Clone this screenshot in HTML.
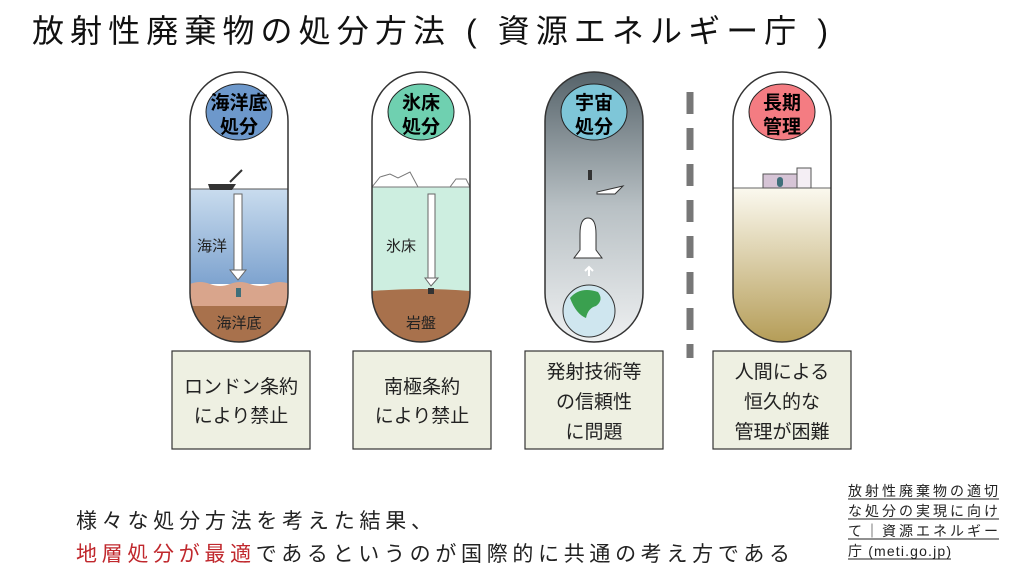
<!DOCTYPE html>
<html><head><meta charset="utf-8"><style>
body{margin:0;width:1024px;height:576px;background:#fff;overflow:hidden;font-family:"Liberation Sans","Noto Sans CJK JP",sans-serif;}
svg text{font-family:"Liberation Sans","Noto Sans CJK JP",sans-serif;}
</style></head><body>
<svg width="1024" height="576" viewBox="0 0 1024 576" xmlns="http://www.w3.org/2000/svg">
<defs>
<clipPath id="c1"><rect x="190" y="72" width="98" height="270" rx="49"/></clipPath>
<clipPath id="c2"><rect x="372" y="72" width="98" height="270" rx="49"/></clipPath>
<clipPath id="c3"><rect x="545" y="72" width="98" height="270" rx="49"/></clipPath>
<clipPath id="c4"><rect x="733" y="72" width="98" height="270" rx="49"/></clipPath>
<linearGradient id="sea" x1="0" y1="0" x2="0" y2="1"><stop offset="0" stop-color="#c9dcee"/><stop offset="1" stop-color="#7ea3cf"/></linearGradient>
<linearGradient id="space" x1="0" y1="0" x2="0" y2="1"><stop offset="0" stop-color="#56636a"/><stop offset="0.5" stop-color="#b8c0c4"/><stop offset="1" stop-color="#eef0f1"/></linearGradient>
<linearGradient id="tan" x1="0" y1="0" x2="0" y2="1"><stop offset="0" stop-color="#fbf9ef"/><stop offset="1" stop-color="#b59d58"/></linearGradient>
</defs>
<text x="32" y="42" font-size="32" fill="#111" textLength="796" lengthAdjust="spacing">放射性廃棄物の処分方法 ( 資源エネルギー庁 )</text>

<!-- capsule 1 -->
<g clip-path="url(#c1)">
<rect x="190" y="72" width="98" height="270" fill="#fff"/>
<rect x="190" y="189" width="98" height="95" fill="url(#sea)"/>
<path d="M190 284 q10 -4 20 0 t20 0 t20 0 t20 0 t20 0 V342 H190Z" fill="#d9a58c"/>
<rect x="190" y="306" width="98" height="36" fill="#a8714c"/>
</g>
<line x1="190" y1="189" x2="288" y2="189" stroke="#555"/>
<rect x="234" y="194" width="8" height="76" fill="#fff" stroke="#666"/>
<path d="M230 270 L246 270 L238 280Z" fill="#fff" stroke="#666"/>
<rect x="236" y="288" width="5" height="9" fill="#3f6f7a"/>
<path d="M208 184 h28 l-4 6 h-22z" fill="#333"/><line x1="230" y1="182" x2="242" y2="170" stroke="#333" stroke-width="2"/>
<rect x="190" y="72" width="98" height="270" rx="49" fill="none" stroke="#333" stroke-width="1.5"/>
<ellipse cx="239" cy="112" rx="33" ry="28" fill="#6d98cb" stroke="#222"/>
<text x="239" y="109" font-size="19" font-weight="bold" text-anchor="middle">海洋底</text>
<text x="239" y="133" font-size="19" font-weight="bold" text-anchor="middle">処分</text>
<text x="197" y="251" font-size="15" fill="#222">海洋</text>
<text x="239" y="328" font-size="15" fill="#222" text-anchor="middle">海洋底</text>

<!-- capsule 2 -->
<g clip-path="url(#c2)">
<rect x="372" y="72" width="98" height="270" fill="#fff"/>
<rect x="372" y="187" width="98" height="104" fill="#cdeee0"/>
<path d="M372 291 q50 -4 98 0 V342 H372Z" fill="#a8714c"/>
<path d="M372 187 l8 -10 l10 -3 l8 4 l12 -6 l8 15 h32 l6 -8 l10 0 l4 8Z" fill="#fff" stroke="#777"/>
</g>
<rect x="428" y="194" width="7" height="84" fill="#fff" stroke="#666"/>
<path d="M425 278 L438 278 L431 286Z" fill="#fff" stroke="#666"/>
<rect x="428" y="288" width="6" height="6" fill="#333"/>
<rect x="372" y="72" width="98" height="270" rx="49" fill="none" stroke="#333" stroke-width="1.5"/>
<ellipse cx="421" cy="112" rx="33" ry="28" fill="#6fd0b0" stroke="#222"/>
<text x="421" y="109" font-size="19" font-weight="bold" text-anchor="middle">氷床</text>
<text x="421" y="133" font-size="19" font-weight="bold" text-anchor="middle">処分</text>
<text x="386" y="251" font-size="15" fill="#222">氷床</text>
<text x="421" y="328" font-size="15" fill="#222" text-anchor="middle">岩盤</text>

<!-- capsule 3 -->
<g clip-path="url(#c3)">
<rect x="545" y="72" width="98" height="270" fill="url(#space)"/>
</g>
<circle cx="589" cy="311" r="26" fill="#cfe6ef" stroke="#333"/>
<path d="M570 298 q10 -12 28 -6 q6 8 -2 14 q-8 2 -10 12 q-10 -4 -16 -20z" fill="#3aa04f"/>
<path d="M580 234 q0 -16 8 -16 q8 0 8 16 v16 l6 8 h-28 l6 -8z" fill="#fff" stroke="#333"/>
<path d="M597 192 l26 -6 l-8 8 h-18z" fill="#fff" stroke="#333"/>
<rect x="588" y="170" width="4" height="10" fill="#333"/>
<path d="M589 276 v-8 M585 271 l4 -4 l4 4" stroke="#fff" stroke-width="2" fill="none"/>
<rect x="545" y="72" width="98" height="270" rx="49" fill="none" stroke="#333" stroke-width="1.5"/>
<ellipse cx="594" cy="112" rx="33" ry="28" fill="#7ec6d8" stroke="#222"/>
<text x="594" y="109" font-size="19" font-weight="bold" text-anchor="middle">宇宙</text>
<text x="594" y="133" font-size="19" font-weight="bold" text-anchor="middle">処分</text>

<!-- dashed -->
<line x1="690" y1="92" x2="690" y2="358" stroke="#777" stroke-width="7" stroke-dasharray="22 14"/>

<!-- capsule 4 -->
<g clip-path="url(#c4)">
<rect x="733" y="72" width="98" height="270" fill="#fff"/>
<rect x="733" y="188" width="98" height="154" fill="url(#tan)"/>
</g>
<line x1="733" y1="188" x2="831" y2="188" stroke="#666"/>
<rect x="763" y="174" width="34" height="14" fill="#d6c4d6" stroke="#555"/>
<rect x="797" y="168" width="14" height="20" fill="#f4eef4" stroke="#555"/>
<rect x="777" y="177" width="6" height="10" rx="3" fill="#3f6f7a"/>
<rect x="733" y="72" width="98" height="270" rx="49" fill="none" stroke="#333" stroke-width="1.5"/>
<ellipse cx="782" cy="112" rx="33" ry="28" fill="#f47c82" stroke="#222"/>
<text x="782" y="109" font-size="19" font-weight="bold" text-anchor="middle">長期</text>
<text x="782" y="133" font-size="19" font-weight="bold" text-anchor="middle">管理</text>

<!-- boxes -->
<g fill="#eef0e2" stroke="#333" stroke-width="1.2">
<rect x="172" y="351" width="138" height="98"/>
<rect x="353" y="351" width="138" height="98"/>
<rect x="525" y="351" width="138" height="98"/>
<rect x="713" y="351" width="138" height="98"/>
</g>
<g font-size="19" fill="#222" text-anchor="middle">
<text x="241" y="393">ロンドン条約</text><text x="241" y="422">により禁止</text>
<text x="422" y="393">南極条約</text><text x="422" y="422">により禁止</text>
<text x="594" y="378">発射技術等</text><text x="594" y="408">の信頼性</text><text x="594" y="438">に問題</text>
<text x="782" y="378">人間による</text><text x="782" y="408">恒久的な</text><text x="782" y="438">管理が困難</text>
</g>

<text x="76" y="528" font-size="21" fill="#222" textLength="356" lengthAdjust="spacing">様々な処分方法を考えた結果、</text>
<text x="76" y="561" font-size="21" fill="#222" textLength="714" lengthAdjust="spacing"><tspan fill="#c0282d">地層処分が最適</tspan>であるというのが国際的に共通の考え方である</text>

<g font-size="14" fill="#222">
<text x="848" y="496" textLength="150" lengthAdjust="spacing">放射性廃棄物の適切</text>
<text x="848" y="516" textLength="150" lengthAdjust="spacing">な処分の実現に向け</text>
<text x="848" y="536" textLength="150" lengthAdjust="spacing">て｜資源エネルギー</text>
<text x="848" y="556" textLength="103" lengthAdjust="spacing">庁 (meti.go.jp)</text>
</g>
<g stroke="#222" stroke-width="1">
<line x1="848" y1="499" x2="999" y2="499"/><line x1="848" y1="519" x2="999" y2="519"/>
<line x1="848" y1="539" x2="999" y2="539"/><line x1="848" y1="559" x2="951" y2="559"/>
</g>
</svg>
</body></html>
